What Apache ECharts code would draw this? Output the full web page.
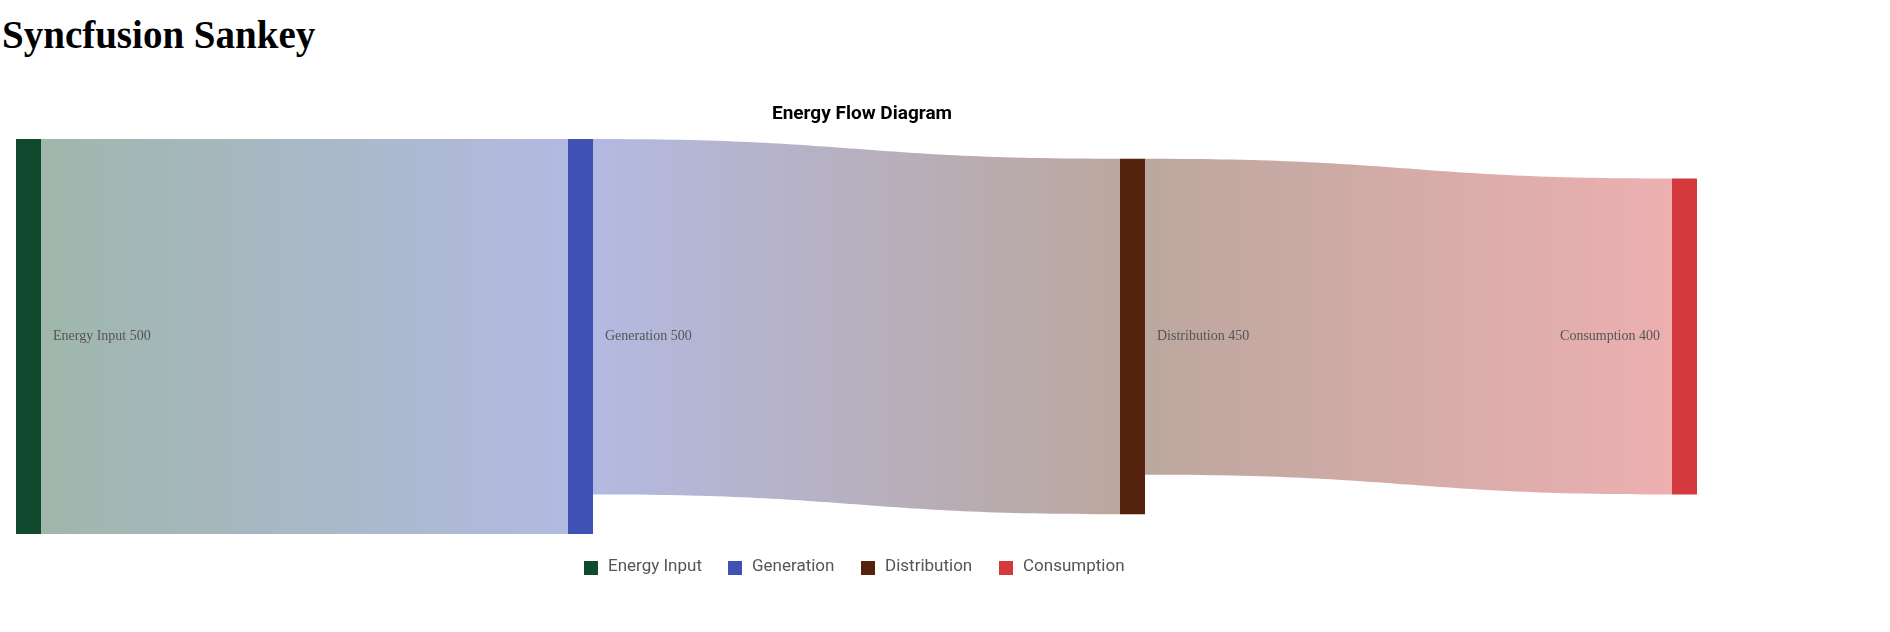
<!DOCTYPE html>
<html><head><meta charset="utf-8">
<script src="https://cdn.jsdelivr.net/npm/echarts@6/dist/echarts.min.js"></script>
<style>html,body{margin:0;padding:0;background:#fff;overflow:hidden}
h1{position:absolute;left:2px;top:12px;margin:0;font-family:"Liberation Serif","Times New Roman",serif;font-weight:bold;font-size:39px;color:#000}
#c{width:1890px;height:632px}</style></head>
<body><h1>Syncfusion Sankey</h1><div id="c"></div>
<script>
const nodeNames = ['Energy Input','Generation','Distribution','Consumption'];
const nodeColors = ['#0f4a2e','#4051b5','#55230d','#d3393d'];
const linkSources = ['Energy Input','Generation','Distribution'];
const linkTargets = ['Generation','Distribution','Consumption'];
const linkValues = [500,450,400];

const chart = echarts.init(document.getElementById('c'));
const legendX = [584,728,861,999];
const graphic = [];
nodeNames.forEach((n,i)=>{
  graphic.push({type:'rect',left:legendX[i],top:561,shape:{width:14,height:14},style:{fill:nodeColors[i]}});
  graphic.push({type:'text',left:legendX[i]+24,top:558,style:{text:n,fill:'#555',font:'17px Roboto'}});
});
chart.setOption({
  title:{text:'Energy Flow Diagram',left:857,textAlign:'center',top:100,textStyle:{fontFamily:'Roboto',fontWeight:'bold',fontSize:19,color:'#000'}},
  graphic,
  series:[{
    type:'sankey',left:16,right:193,top:139,bottom:98,nodeWidth:25,nodeGap:10,
    draggable:false,
    data:nodeNames.map((n,i)=>({name:n,itemStyle:{color:nodeColors[i]},
      label:i===3?{position:'left'}:{position:'right'}})),
    links:linkSources.map((s,i)=>({source:s,target:linkTargets[i],value:linkValues[i]})),
    lineStyle:{color:'gradient',opacity:0.4,curveness:0.5},
    itemStyle:{borderWidth:0},
    label:{fontFamily:'Liberation Serif',fontSize:14,color:'#555',distance:12,
      formatter:p=>p.name+' '+p.value},
    emphasis:{disabled:true}
  }]
});
</script></body></html>
